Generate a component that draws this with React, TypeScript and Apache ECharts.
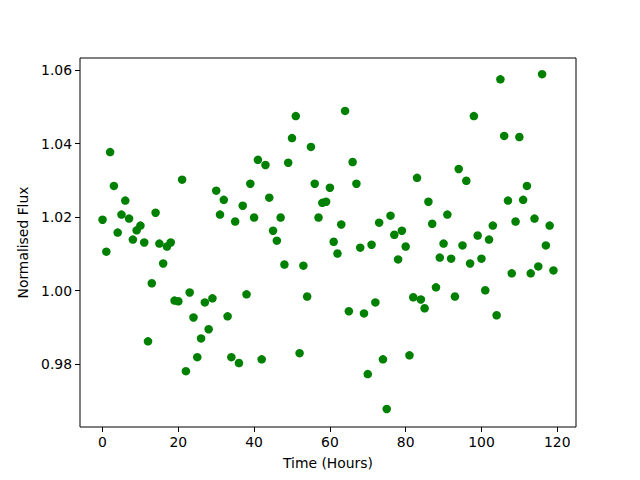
import React, { useEffect, useRef } from "react";
import * as echarts from "echarts";

const hours: number[] = [
  0, 1, 2, 3, 4, 5, 6, 7, 8, 9, 10, 11, 12, 13, 14, 15, 16, 17, 18, 19,
  20, 21, 22, 23, 24, 25, 26, 27, 28, 29, 30, 31, 32, 33, 34, 35, 36, 37, 38, 39,
  40, 41, 42, 43, 44, 45, 46, 47, 48, 49, 50, 51, 52, 53, 54, 55, 56, 57, 58, 59,
  60, 61, 62, 63, 64, 65, 66, 67, 68, 69, 70, 71, 72, 73, 74, 75, 76, 77, 78, 79,
  80, 81, 82, 83, 84, 85, 86, 87, 88, 89, 90, 91, 92, 93, 94, 95, 96, 97, 98, 99,
  100, 101, 102, 103, 104, 105, 106, 107, 108, 109, 110, 111, 112, 113, 114, 115, 116, 117, 118, 119,
];

const flux: number[] = [
  1.0193, 1.0106, 1.0377, 1.0285, 1.0158, 1.0207, 1.0245, 1.0196, 1.0139, 1.0164,
  1.0177, 1.0131, 0.9862, 1.002, 1.0212, 1.0128, 1.0074, 1.012, 1.0131, 0.9973,
  0.9971, 1.0302, 0.9781, 0.9995, 0.9927, 0.9819, 0.987, 0.9968, 0.9895, 0.9979,
  1.0272, 1.0207, 1.0247, 0.993, 0.9819, 1.0188, 0.9803, 1.0231, 0.999, 1.0291,
  1.0199, 1.0356, 0.9813, 1.0342, 1.0253, 1.0163, 1.0136, 1.0199, 1.0071, 1.0348,
  1.0415, 1.0475, 0.983, 1.0068, 0.9984, 1.0391, 1.0291, 1.0199, 1.0239, 1.0242,
  1.028, 1.0133, 1.0101, 1.018, 1.0489, 0.9944, 1.035, 1.0291, 1.0117, 0.9938,
  0.9773, 1.0125, 0.9968, 1.0185, 0.9813, 0.9678, 1.0204, 1.0152, 1.0085, 1.0163,
  1.012, 0.9824, 0.9982, 1.0307, 0.9976, 0.9952, 1.0242, 1.0182, 1.0009, 1.009,
  1.0128, 1.0207, 1.0087, 0.9984, 1.0331, 1.0123, 1.0299, 1.0074, 1.0475, 1.015,
  1.0087, 1.0001, 1.0139, 1.0177, 0.9933, 1.0575, 1.0421, 1.0245, 1.0047, 1.0188,
  1.0418, 1.0247, 1.0285, 1.0047, 1.0196, 1.0066, 1.0589, 1.0123, 1.0177, 1.0055,
];

const xTicks: number[] = [0, 20, 40, 60, 80, 100, 120];
const yTicks: number[] = [0.98, 1.0, 1.02, 1.04, 1.06];

const FONT = "DejaVu Sans";

export default function App() {
  const ref = useRef<HTMLDivElement>(null);
  useEffect(() => {
    if (!ref.current) return;
    const chart = echarts.init(ref.current, undefined, { renderer: "svg" });
    const data = hours.map((h, i) => [h, flux[i]]);
    chart.setOption({
      animation: false,
      backgroundColor: "#ffffff",
      grid: {
        left: 80,
        top: 58,
        right: 64,
        bottom: 53,
        show: true,
        borderColor: "#000000",
        borderWidth: 1,
        backgroundColor: "transparent",
      },
      xAxis: {
        type: "value",
        min: -5.95,
        max: 124.95,
        name: "Time (Hours)",
        nameLocation: "middle",
        nameGap: 29,
        nameTextStyle: { fontFamily: FONT, fontSize: 13.9, color: "#000" },
        axisLine: { show: false, onZero: false },
        splitLine: { show: false },
        axisTick: {
          show: true,
          inside: false,
          length: 5,
          lineStyle: { color: "#000", width: 1 },
          customValues: xTicks,
        },
        axisLabel: {
          show: true,
          margin: 8,
          fontFamily: FONT,
          fontSize: 13.9,
          color: "#000",
          customValues: xTicks,
          formatter: (v: number) => String(v),
        },
      },
      yAxis: {
        type: "value",
        min: 0.9629,
        max: 1.0633,
        name: "Normalised Flux",
        nameLocation: "middle",
        nameGap: 41,
        nameRotate: 90,
        nameTextStyle: { fontFamily: FONT, fontSize: 13.9, color: "#000" },
        axisLine: { show: false, onZero: false },
        splitLine: { show: false },
        axisTick: {
          show: true,
          inside: false,
          length: 5,
          lineStyle: { color: "#000", width: 1 },
          customValues: yTicks,
        },
        axisLabel: {
          show: true,
          margin: 8,
          fontFamily: FONT,
          fontSize: 13.9,
          color: "#000",
          customValues: yTicks,
          formatter: (v: number) => v.toFixed(2),
        },
      },
      series: [
        {
          type: "scatter",
          data,
          symbol: "circle",
          symbolSize: 8.5,
          itemStyle: { color: "#008000", opacity: 1 },
          emphasis: { disabled: true },
        },
      ],
    });
    return () => chart.dispose();
  }, []);
  return (
    <div
      ref={ref}
      style={{ position: "fixed", left: 0, top: 0, width: 640, height: 480 }}
    />
  );
}
